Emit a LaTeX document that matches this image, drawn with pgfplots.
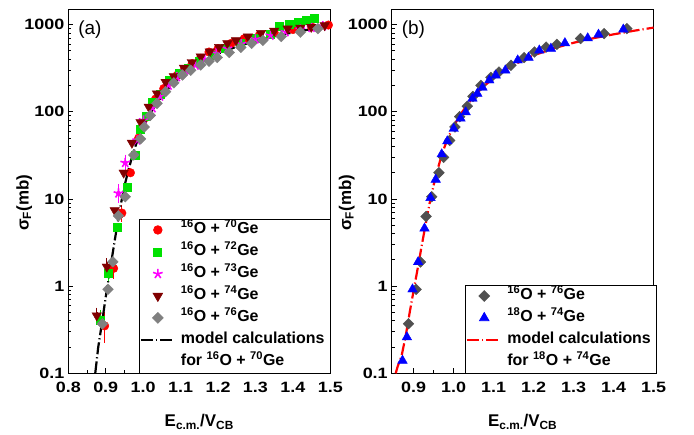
\documentclass[border=0pt]{standalone}
\usepackage{fontspec}
\setmainfont{Liberation Sans}
\newfontfamily\tickfont{Liberation Sans}[FakeStretch=1.2]
\usepackage{pgfplots}
\pgfplotsset{compat=1.18}

\definecolor{cRed}{RGB}{255,0,0}
\definecolor{cGreen}{RGB}{0,225,0}
\definecolor{cMag}{RGB}{255,0,255}
\definecolor{cWine}{RGB}{128,0,0}
\definecolor{cGray}{RGB}{128,128,128}
\definecolor{cDark}{RGB}{80,80,80}
\definecolor{cBlue}{RGB}{0,0,255}

\pgfplotsset{
  every axis/.append style={
    scale only axis, width=262bp, height=364bp,
    ymode=log, ymin=0.1, ymax=1500,
    ytick={0.1,1,10,100,1000}, yticklabels={0.1,1,10,100,1000},
    xmax=1.5, minor x tick num=1,
    tick pos=left, tick align=inside,
    major tick length=5bp, minor tick length=3bp,
    axis line style={line width=1.2bp, black},
    every tick/.style={black, line width=0.9bp},
    tick label style={font=\tickfont\fontsize{15}{17}\selectfont\bfseries},
    yticklabel style={xshift=-0.5bp},
    xticklabel style={yshift=-5bp},
    label style={font=\fontsize{17}{19}\selectfont\bfseries},
    xlabel={E\textsubscript{c.m.}/V\textsubscript{CB}},
    ylabel={σ\textsubscript{F}(mb)},
    xlabel style={at={(axis description cs:0.5,-0.133)}, anchor=center},
    legend cell align=left,
    legend style={draw=black, line width=0.7bp, fill=white, inner xsep=0.5bp, inner ysep=0bp,
      font=\fontsize{16}{18}\selectfont\bfseries, row sep=0pt,
      nodes={inner xsep=5bp, inner ysep=4bp, text height=11bp, text depth=3bp}},
    legend image code/.code={\draw[mark repeat=2,mark phase=2,#1] plot coordinates {(0bp,0bp) (17bp,0bp) (34bp,0bp)};},
  },
}

\begin{document}
\begin{tikzpicture}
\path[use as bounding box] (-68.3bp,-61.7bp) rectangle (625.7bp,373.3bp);

% ---------------- panel (a)
\begin{axis}[xmin=0.8,
  xtick={0.8,0.9,1.0,1.1,1.2,1.3,1.4,1.5},
  xticklabels={0.8,0.9,1.0,1.1,1.2,1.3,1.4,1.5},
  ylabel style={at={(axis description cs:-0.168,0.468)}, anchor=center},
  legend style={at={(rel axis cs:1,0)}, anchor=south east}]

% error bars
\addplot[cRed, line width=0.9bp, mark=none, only marks, forget plot,
  error bars/.cd, y dir=both, y explicit, error mark options={cRed, mark size=4bp, line width=0.9bp}]
  coordinates {(0.897,0.35) +- (0,0.1) (0.921,1.6) +- (0,0.25) (0.943,6.9) +- (0,0.8)};
\addplot[cGreen, line width=0.9bp, mark=none, only marks, forget plot,
  error bars/.cd, y dir=both, y explicit, error mark options={cGreen, mark size=4bp, line width=0.9bp}]
  coordinates {(0.885,0.41) +- (0,0.07) (0.907,1.4) +- (0,0.15)};
\addplot[cMag, line width=0.9bp, mark=none, only marks, forget plot,
  error bars/.cd, y dir=both, y explicit, error mark options={cMag, mark size=4bp, line width=0.9bp}]
  coordinates {(0.934,11.6) +- (0,1.6) (0.952,26) +- (0,3)};
\addplot[cWine, line width=0.9bp, mark=none, only marks, forget plot,
  error bars/.cd, y dir=both, y explicit, error mark options={cWine, mark size=4bp, line width=0.9bp}]
  coordinates {(0.876,0.46) +- (0,0.05) (0.903,1.67) +- (0,0.22)};

% 16O + 70Ge
\addplot[only marks, mark=*, mark size=4.3bp, draw=cRed, fill=cRed] coordinates {
(0.897,0.35) (0.921,1.6) (0.943,6.9) (0.966,20) (0.988,50) (1.010,87) (1.033,140)
(1.055,185) (1.073,220) (1.091,263) (1.110,305) (1.131,357) (1.153,410) (1.176,485)
(1.200,530) (1.235,610) (1.270,690) (1.310,750) (1.350,810) (1.400,880) (1.450,940) (1.495,990)};
\addlegendentry{\textsuperscript{16}O + \textsuperscript{70}Ge}
% 16O + 72Ge
\addplot[only marks, mark=square*, mark size=4bp, draw=cGreen, fill=cGreen] coordinates {
(0.885,0.41) (0.907,1.4) (0.930,4.7) (0.957,13.5) (0.979,32) (0.991,64) (1.008,90)
(1.024,130) (1.045,160) (1.069,230) (1.095,275) (1.120,320) (1.150,380) (1.185,450)
(1.220,530) (1.260,620) (1.300,700) (1.340,780) (1.364,955) (1.391,1000) (1.413,1060)
(1.436,1120) (1.458,1180)};
\addlegendentry{\textsuperscript{16}O + \textsuperscript{72}Ge}
% 16O + 73Ge
\addplot[only marks, mark=star, mark size=5bp, draw=cMag, line width=1.6bp] coordinates {
(0.934,11.6) (0.952,26) (0.984,47) (1.001,80) (1.025,110) (1.045,150) (1.068,200)
(1.090,250) (1.113,300) (1.140,340) (1.165,400) (1.195,470) (1.225,530) (1.262,600)
(1.300,680) (1.340,750) (1.380,820) (1.420,880) (1.450,920) (1.480,960)};
\addlegendentry{\textsuperscript{16}O + \textsuperscript{73}Ge}
% 16O + 74Ge
\addplot[only marks, mark=triangle*, mark size=5.5bp, mark options={rotate=180}, draw=cWine, fill=cWine] coordinates {
(0.876,0.46) (0.903,1.67) (0.924,7.4) (0.948,20) (0.970,44) (0.993,76) (1.015,114)
(1.037,162) (1.060,220) (1.082,255) (1.109,320) (1.130,370) (1.154,430) (1.178,490)
(1.203,553) (1.225,610) (1.248,660) (1.280,730) (1.315,800) (1.350,850) (1.386,900)
(1.420,920) (1.449,940) (1.485,980)};
\addlegendentry{\textsuperscript{16}O + \textsuperscript{74}Ge}
% 16O + 76Ge
\addplot[only marks, mark=square*, mark size=3.8bp, mark options={rotate=45}, draw=cGray, fill=cGray] coordinates {
(0.891,0.37) (0.906,0.92) (0.919,1.9) (0.934,6.4) (0.952,10.6) (0.975,32) (0.993,49)
(1.003,67) (1.019,91) (1.037,125) (1.060,170) (1.082,215) (1.105,265) (1.127,300)
(1.154,345) (1.176,380) (1.198,420) (1.230,480) (1.261,550) (1.290,610) (1.320,660)
(1.369,730) (1.420,820) (1.467,900)};
\addlegendentry{\textsuperscript{16}O + \textsuperscript{76}Ge}
% model
\addplot[black, line width=2.2bp, dash pattern=on 12bp off 3bp on 1.2bp off 3bp] coordinates {
(0.872,0.1) (0.88,0.2) (0.89,0.38) (0.90,0.75) (0.91,1.4) (0.92,2.6) (0.93,4.8)
(0.94,8.5) (0.95,14) (0.96,21) (0.97,30) (0.98,41) (0.99,54) (1.00,68) (1.02,98)
(1.04,132) (1.06,170) (1.08,212) (1.10,255) (1.13,320) (1.16,385) (1.20,465)
(1.25,560) (1.30,650) (1.35,735) (1.40,815) (1.45,890) (1.50,960)};
\addlegendentry{model calculations}
\addlegendimage{empty legend}
\addlegendentry{for \textsuperscript{16}O + \textsuperscript{70}Ge}

\node[anchor=west, font=\fontsize{19}{21}\selectfont] at (rel axis cs:0.025,0.945) {(a)};
\end{axis}

% ---------------- panel (b)
\begin{axis}[at={(323.4bp,0bp)}, xmin=0.845,
  xtick={0.9,1.0,1.1,1.2,1.3,1.4,1.5},
  xticklabels={0.9,1.0,1.1,1.2,1.3,1.4,1.5},
  ylabel style={at={(axis description cs:-0.172,0.468)}, anchor=center},
  legend style={at={(rel axis cs:1,0)}, anchor=south east, xshift=3bp}]

% 16O + 76Ge
\addplot[only marks, mark=square*, mark size=3.8bp, mark options={rotate=45}, draw=cDark, fill=cDark] coordinates {
(0.887,0.37) (0.906,0.92) (0.917,1.89) (0.931,6.3) (0.945,10.6) (0.963,20) (0.975,30)
(0.990,47) (1.003,67) (1.015,88) (1.034,116) (1.048,150) (1.068,201) (1.093,248)
(1.113,286) (1.143,342) (1.176,419) (1.202,485) (1.231,553) (1.258,594) (1.317,692)
(1.376,789) (1.433,900)};
\addlegendentry{\textsuperscript{16}O + \textsuperscript{76}Ge}
% 18O + 74Ge
\addplot[only marks, mark=triangle*, mark size=5.5bp, draw=cBlue, fill=cBlue] coordinates {
(0.872,0.14) (0.883,0.26) (0.897,0.92) (0.911,1.89) (0.927,4.6) (0.942,10.3) (0.955,16.7)
(0.970,32.6) (0.984,46) (1.000,64) (1.017,84) (1.030,99) (1.047,142) (1.059,162)
(1.072,190) (1.089,230) (1.105,262) (1.129,299) (1.160,390) (1.187,419) (1.214,507)
(1.243,531) (1.278,615) (1.335,700) (1.362,770) (1.424,880)};
\addlegendentry{\textsuperscript{18}O + \textsuperscript{74}Ge}
% model
\addplot[cRed, line width=2.2bp, dash pattern=on 12bp off 3bp on 1.2bp off 3bp] coordinates {
(0.855,0.1) (0.860,0.12) (0.870,0.16) (0.880,0.27) (0.890,0.5) (0.900,0.9) (0.910,1.6)
(0.920,2.9) (0.930,5.2) (0.940,9) (0.950,14.5) (0.960,22) (0.970,32) (0.980,43)
(0.990,55) (1.000,69) (1.02,98) (1.04,130) (1.06,167) (1.08,205) (1.10,245)
(1.13,305) (1.16,365) (1.20,445) (1.25,535) (1.30,620) (1.35,700) (1.40,775)
(1.45,850) (1.50,925)};
\addlegendentry{model calculations}
\addlegendimage{empty legend}
\addlegendentry{for \textsuperscript{18}O + \textsuperscript{74}Ge}

\node[anchor=west, font=\fontsize{19}{21}\selectfont] at (rel axis cs:0.025,0.945) {(b)};
\end{axis}
\end{tikzpicture}
\end{document}
